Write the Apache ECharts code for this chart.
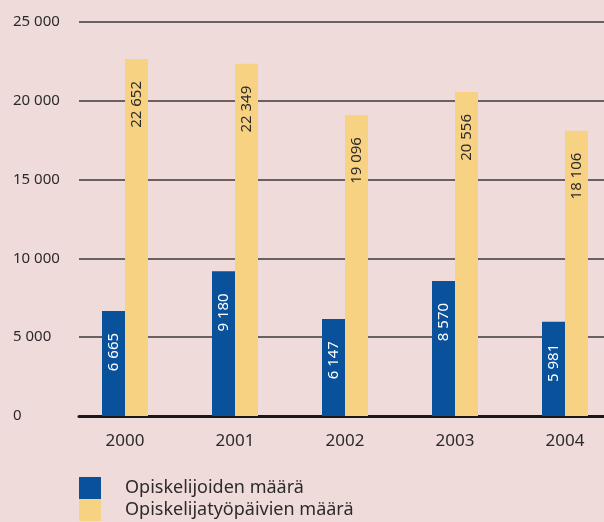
<!DOCTYPE html>
<html>
<head>
<meta charset="utf-8">
<script src="https://cdn.jsdelivr.net/npm/echarts@6/dist/echarts.min.js"></script>
<style>
html, body { margin: 0; padding: 0; background: #efdbda; }
#chart { width: 604px; height: 522px; }
</style>
</head>
<body>
<div id="chart"></div>
<script>
var years = ['2000', '2001', '2002', '2003', '2004'];
var opiskelijat = [6665, 9180, 6147, 8570, 5981];
var tyopaivat = [22652, 22349, 19096, 20556, 18106];
var yTicks = [0, 5000, 10000, 15000, 20000, 25000];

var FONT = '"Noto Sans", "Open Sans", sans-serif';

function fmt(v) {
    return String(v).replace(/\B(?=(\d{3})+(?!\d))/g, ' ');
}

function legendFor(name, top) {
    return {
        left: 74, top: top,
        itemWidth: 22, itemHeight: 22,
        icon: 'rect',
        textStyle: { fontSize: 18, color: '#2b2b2b', fontFamily: FONT, padding: [0, 0, 0, 19] },
        data: [name]
    };
}

var chart = echarts.init(document.getElementById('chart'));
chart.setOption({
    backgroundColor: '#efdbda',
    animation: false,
    textStyle: { fontFamily: FONT },
    legend: [
        legendFor('Opiskelijoiden määrä', 472),
        legendFor('Opiskelijatyöpäivien määrä', 494)
    ],
    grid: [
        { left: 79, right: 0, top: 22, bottom: 106, outerBoundsMode: 'none' },
        { left: 70, width: 550, top: 22, bottom: 106, outerBoundsMode: 'none' }
    ],
    xAxis: [
        {
            gridIndex: 0, type: 'category', data: years,
            axisLine: { lineStyle: { color: '#1a1a1a', width: 3 } },
            axisTick: { show: false }, axisLabel: { show: false }
        },
        {
            gridIndex: 1, type: 'category', data: years,
            axisLine: { show: false }, axisTick: { show: false },
            axisLabel: { fontSize: 17, color: '#2b2b2b', margin: 17, fontFamily: FONT }
        }
    ],
    yAxis: [
        {
            gridIndex: 0, type: 'value', min: yTicks[0], max: yTicks[yTicks.length - 1], interval: 5000,
            axisLine: { show: false }, axisTick: { show: false },
            splitLine: { lineStyle: { color: '#3c3838', width: 1.5 } },
            axisLabel: { fontSize: 15, color: '#2b2b2b', margin: 66, align: 'left', fontFamily: FONT, formatter: fmt }
        },
        {
            gridIndex: 1, type: 'value', min: yTicks[0], max: yTicks[yTicks.length - 1], interval: 5000,
            axisLine: { show: false }, axisTick: { show: false },
            splitLine: { show: false }, axisLabel: { show: false }
        }
    ],
    series: [
        {
            name: 'Opiskelijoiden määrä', type: 'bar', xAxisIndex: 1, yAxisIndex: 1,
            data: opiskelijat, barWidth: 23, barGap: '0%',
            itemStyle: { color: '#0a519c' },
            label: {
                show: true, position: 'insideTop', distance: 22, rotate: 90,
                align: 'right', verticalAlign: 'middle',
                color: '#ffffff', fontSize: 15, fontFamily: FONT,
                formatter: function (p) { return fmt(p.value); }
            }
        },
        {
            name: 'Opiskelijatyöpäivien määrä', type: 'bar', xAxisIndex: 1, yAxisIndex: 1,
            data: tyopaivat, barWidth: 23, barGap: '0%',
            itemStyle: { color: '#f8d283' },
            label: {
                show: true, position: 'insideTop', distance: 22, rotate: 90,
                align: 'right', verticalAlign: 'middle',
                color: '#2b2b2b', fontSize: 15, fontFamily: FONT,
                formatter: function (p) { return fmt(p.value); }
            }
        }
    ]
});
</script>
</body>
</html>
